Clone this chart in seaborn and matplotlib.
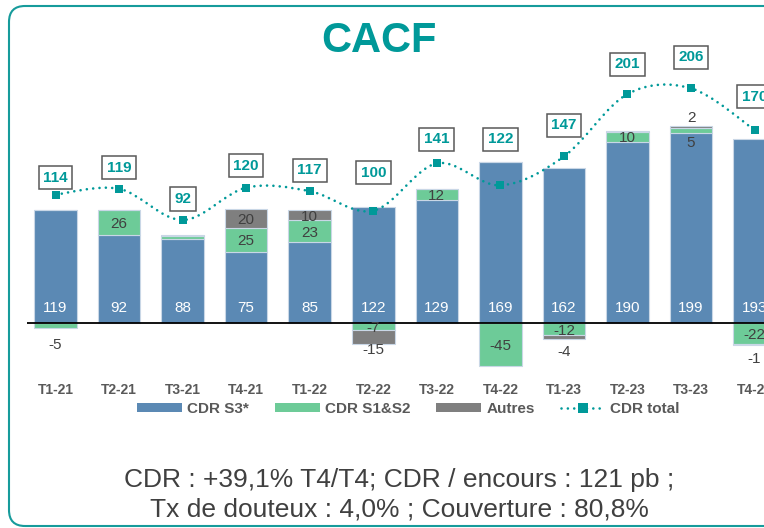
import numpy as np
import pandas as pd
import matplotlib
matplotlib.use("Agg")
import matplotlib.pyplot as plt
import seaborn as sns
from matplotlib.path import Path
from matplotlib.patches import PathPatch, FancyBboxPatch, Patch
from matplotlib.lines import Line2D
from matplotlib.transforms import IdentityTransform

# ---------------- data ----------------
quarters = ["T1-21", "T2-21", "T3-21", "T4-21", "T1-22", "T2-22",
            "T3-22", "T4-22", "T1-23", "T2-23", "T3-23", "T4-23"]
cdr_s3 = [119, 92, 88, 75, 85, 122, 129, 169, 162, 190, 199, 193]
cdr_s12 = [-5, 26, 3, 25, 23, -7, 12, -45, -12, 10, 5, -22]
cdr_autres = [0, 0, 1, 20, 10, -15, 0, 0, -4, 1, 2, -1]
cdr_total = [114, 119, 92, 120, 117, 100, 141, 122, 147, 201, 206, 170]
s12_text = ["-5", "26", "", "25", "23", "-7", "12", "-45", "-12", "10", "5", "-22"]
autres_text = ["", "", "", "20", "10", "-15", "", "", "-4", "", "2", "-1"]
legend_labels = ["CDR S3*", "CDR S1&S2", "Autres", "CDR total"]
title = "CACF"
footer = ["CDR : +39,1% T4/T4; CDR / encours : 121 pb ;",
          "Tx de douteux : 4,0% ; Couverture : 80,8%"]

# ---------------- style ----------------
BLUE = "#5B89B4"
GREEN = "#6DCB98"
GREY = "#7F7F7F"
TEAL = "#009999"
DARK = "#404040"
EDGE = "#c9d7e6"
W, H = 764, 528
# vertical offsets (px) of total-value boxes above their markers
total_dy_px = [17, 21, 21, 22, 21, 38, 24, 46, 31, 30, 31, 33]

sns.set_theme(style="white")
plt.rcParams["font.family"] = ["Liberation Sans", "DejaVu Sans"]

fig = plt.figure(figsize=(W / 100, H / 100), dpi=100)

def fx(px):
    return px / W

def fy(py):
    return 1 - py / H

# axes geometry (pixels)
ax_left, ax_right, ax_top, ax_bot = 27, 789.6, 40, 378
ax = fig.add_axes([fx(ax_left), fy(ax_bot), (ax_right - ax_left) / W, (ax_bot - ax_top) / H])
ax.patch.set_alpha(0)

s3 = np.array(cdr_s3, dtype=float)
s12 = np.array(cdr_s12, dtype=float)
au = np.array(cdr_autres, dtype=float)
s12_bottom = np.where(s12 >= 0, s3, 0.0)
au_bottom = np.where(au >= 0, s3 + np.clip(s12, 0, None), np.clip(s12, None, 0))

df = pd.DataFrame({"q": quarters, "s3": s3, "s12": s12, "au": au})
bar_kw = dict(order=quarters, width=0.67, saturation=1, errorbar=None,
              edgecolor=EDGE, linewidth=0.8, ax=ax)
sns.barplot(data=df, x="q", y="s3", color=BLUE, **bar_kw)
sns.barplot(data=df, x="q", y="s12", color=GREEN, bottom=s12_bottom, **bar_kw)
sns.barplot(data=df, x="q", y="au", color=GREY, bottom=au_bottom, **bar_kw)

n = len(quarters)
k = 0.956  # px per unit on the bar axis
ax.set_xlim(-0.4485, -0.4485 + (ax_right - ax_left) / 63.55)
ax.set_ylim(-(ax_bot - 323.3) / k, (323.3 - ax_top) / k)
ax.axhline(0, color="black", lw=1.3, zorder=6)
ax.set_xlabel("")
ax.set_ylabel("")
ax.set_yticks([])
ax.set_xticks(range(n))
ax.set_xticklabels(quarters, fontsize=10, fontweight="bold", color="#595959")
ax.tick_params(axis="x", length=0, pad=3.5)
for sp in ax.spines.values():
    sp.set_visible(False)

# value labels
for i in range(n):
    ax.text(i, 11.8 / k, f"{cdr_s3[i]:g}", ha="center", va="baseline",
            fontsize=11, color="white", zorder=7)
    if s12_text[i]:
        v = s12[i]
        lo, hi = s12_bottom[i], s12_bottom[i] + v
        if abs(v) <= 5:
            y = min(lo, hi) - (15 / k if v < 0 else 8 / k)
        else:
            y = (lo + hi) / 2
        ax.text(i, y, s12_text[i], ha="center", va="center_baseline",
                fontsize=11, color=DARK, zorder=7)
    if autres_text[i]:
        v = au[i]
        lo, hi = au_bottom[i], au_bottom[i] + v
        if v < 0:
            y = min(lo, hi) - (4 / k if abs(v) >= 10 else 12 / k)
        elif abs(v) <= 5:
            y = max(lo, hi) + 10 / k
        else:
            y = (lo + hi) / 2
        ax.text(i, y, autres_text[i], ha="center", va="center_baseline",
                fontsize=11, color=DARK, zorder=7)

# total line on twin axis
ax2 = ax.twinx()
k2 = 1.155
zero2 = 220 + 92 * k2
ax2.set_ylim(-(ax_bot - zero2) / k2, (zero2 - ax_top) / k2)
ax2.set_axis_off()

xs = np.arange(n, dtype=float)
ys = np.array(cdr_total, dtype=float)
P = np.column_stack([xs, ys])
verts = [tuple(P[0])]
codes = [Path.MOVETO]
for i in range(n - 1):
    p0 = P[i - 1] if i > 0 else P[i]
    p3 = P[i + 2] if i + 2 < n else P[i + 1]
    c1 = P[i] + (P[i + 1] - p0) / 6
    c2 = P[i + 1] - (p3 - P[i]) / 6
    verts += [tuple(c1), tuple(c2), tuple(P[i + 1])]
    codes += [Path.CURVE4] * 3
patch = PathPatch(Path(verts, codes), transform=ax2.transData, fill=False,
                  edgecolor=TEAL, lw=1.9, linestyle=(0, (0.01, 2.4)),
                  capstyle="round", zorder=3)
ax2.add_patch(patch)
sns.scatterplot(x=xs, y=ys, marker="s", s=40, color=TEAL, edgecolor=TEAL,
                linewidth=0, ax=ax2, zorder=4, legend=False)
ax2.set_xlim(ax.get_xlim())

for i in range(n):
    ax2.annotate(f"{cdr_total[i]:g}", xy=(i, cdr_total[i]),
                 xytext=(0, total_dy_px[i] * 0.72), textcoords="offset points",
                 ha="center", va="center", fontsize=11, fontweight="bold",
                 color=TEAL, annotation_clip=False, zorder=8,
                 bbox=dict(boxstyle="square,pad=0.3", fc="white",
                           ec="#595959", lw=1.1))

# frame
frame = FancyBboxPatch((9, 2), 900, 520, boxstyle="round,pad=0,rounding_size=16",
                       transform=IdentityTransform(), fill=False, ec="#169B9B", lw=1.5)
fig.add_artist(frame)

# legend
handles = [Patch(facecolor=BLUE, edgecolor="none"),
           Patch(facecolor=GREEN, edgecolor="none"),
           Patch(facecolor=GREY, edgecolor="none"),
           Line2D([0], [0], color=TEAL, lw=1.9, linestyle=(0, (0.01, 2.4)),
                  dash_capstyle="round", marker="s", markersize=6.5,
                  markeredgewidth=0)]
fig.legend(handles, legend_labels, loc="center",
           bbox_to_anchor=(fx(408.5), fy(409)), ncol=4, frameon=False,
           prop={"weight": "bold", "size": 11}, labelcolor="#595959",
           handlelength=2.94, handleheight=0.52, handletextpad=0.33,
           columnspacing=1.7, borderpad=0)

# title and footer
fig.text(fx(378.5), fy(52), title, ha="center", va="baseline",
         fontsize=30, fontweight="bold", color=TEAL)
fig.text(fx(399.5), fy(487), footer[0], ha="center", va="baseline",
         fontsize=19, color=DARK)
fig.text(fx(399.5), fy(517), footer[1], ha="center", va="baseline",
         fontsize=19, color=DARK)

fig.savefig("out.png", dpi=100)
